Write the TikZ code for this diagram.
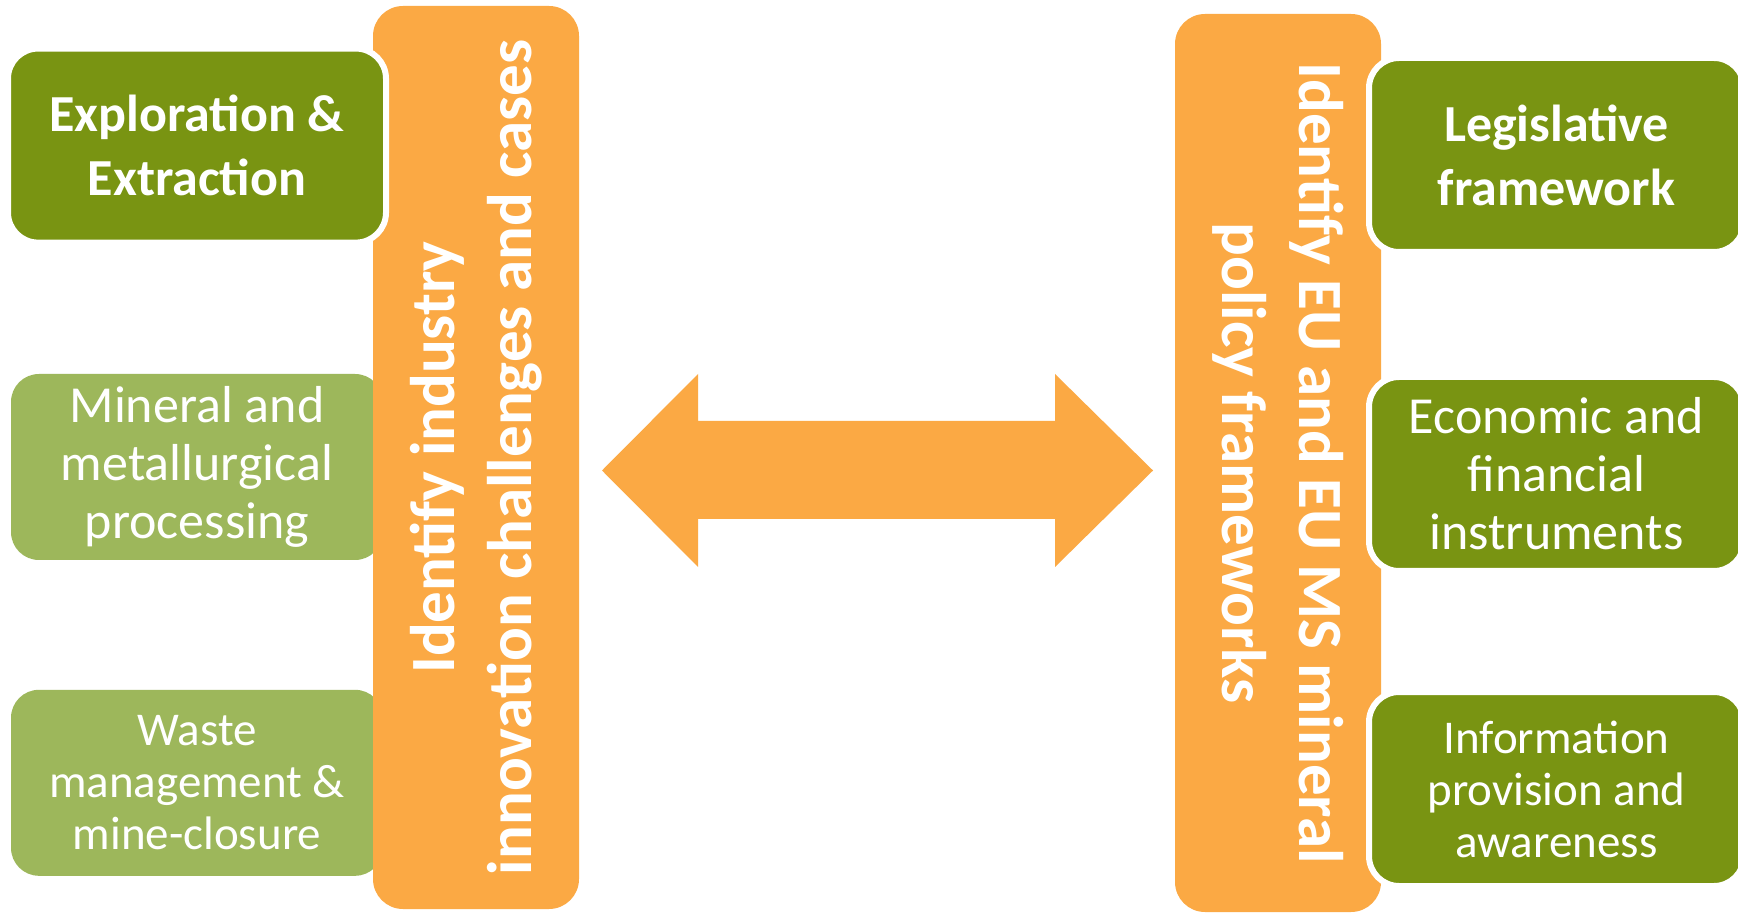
\documentclass[tikz,border=0pt]{standalone}
\usepackage{fontspec}
\setmainfont{Carlito}
\usetikzlibrary{positioning}
\definecolor{barorange}{HTML}{FBA944}
\definecolor{leafgreen}{HTML}{799412}
\definecolor{palegreen}{HTML}{9DB75B}

\begin{document}
\begin{tikzpicture}[
    x=0.5pt, y=-0.5pt,
    bar/.style={
        rectangle, fill=barorange, rounded corners=15pt,
        minimum width=#1, minimum height=103pt, inner sep=0pt,
        text=white, align=center,
        font=\bfseries\fontsize{31.5}{38.5}\selectfont
    },
    keytile/.style={
        rectangle, fill=leafgreen, draw=white, line width=3pt,
        rounded corners=15pt, minimum width=#1, minimum height=97pt,
        inner sep=0pt, text=white, align=center
    },
    softtile/.style={
        rectangle, fill=palegreen, rounded corners=14pt,
        minimum width=186pt, minimum height=93pt,
        inner sep=0pt, text=white, align=center
    },
    bigbold/.style={font=\bfseries\fontsize{26}{32}\selectfont},
    bigtext/.style={font=\fontsize{26}{29}\selectfont},
    smalltext/.style={font=\fontsize{23.5}{26}\selectfont}
]

\path[use as bounding box, fill=white] (0,0) rectangle (1738,913);

%% ---- Left column: industry ----

% tiles behind the bar
\node[softtile, bigtext] (mineral) at (197,467) {Mineral and\\metallurgical\\processing};
\node[softtile, smalltext, below=64.5pt of mineral] (waste) {Waste\\management \&\\mine-closure};

\node[bar=451.5pt, rotate=90] (industry) at (476,457.5) {Identify industry\\innovation challenges and cases};

% tile in front of the bar
\node[keytile=189pt, bigbold, above=64pt of mineral] (explore) {Exploration \&\\Extraction};

%% ---- Middle: two-way arrow ----
\fill[barorange] (602,470.5) -- (698,374) -- (698,421) -- (1055,421) -- (1055,374)
    -- (1153,470.5) -- (1055,567) -- (1055,519) -- (698,519) -- (698,567) -- cycle;

%% ---- Right column: policy ----
\node[bar=449pt, rotate=-90] (policy) at (1278,463) {Identify EU and EU MS mineral\\policy frameworks};

\node[keytile=187.5pt, bigbold] (legis) at (1556.5,155) {Legislative\\framework};
\node[keytile=187.5pt, bigtext, below=59.5pt of legis] (econ) {Economic and\\financial\\instruments};
\node[keytile=187.5pt, smalltext, below=57.5pt of econ] (info) {Information\\provision and\\awareness};

\end{tikzpicture}
\end{document}
